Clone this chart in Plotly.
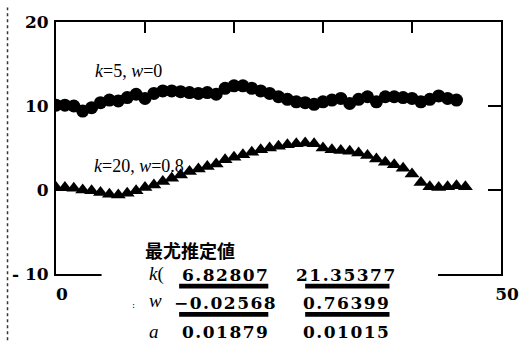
import plotly.graph_objects as go

# ---------------- data ----------------
circ_x = [0, 1, 2, 3, 4, 5, 6, 7, 8, 9, 10, 11, 12, 13, 14, 15, 16, 17, 18, 19, 20, 21, 22,
          23, 24, 25, 26, 27, 28, 29, 30, 31, 32, 33, 34, 35, 36, 37, 38, 39, 40, 41, 42, 43, 44, 45]
circ_y = [10.1, 10.1, 10.0, 9.4, 9.8, 10.4, 10.7, 10.6, 11.0, 11.4, 10.9, 11.5, 11.8, 11.8, 11.7,
          11.6, 11.5, 11.6, 11.4, 12.1, 12.4, 12.4, 12.1, 11.8, 11.5, 11.1, 10.8, 10.5, 10.4, 10.2,
          10.5, 10.7, 10.9, 10.3, 10.8, 11.1, 10.5, 11.1, 11.1, 11.0, 10.9, 10.5, 10.8, 11.2, 10.9, 10.7]

tri_x = [0, 1, 2, 3, 4, 5, 6, 7, 8, 9, 10, 11, 12, 13, 14, 15, 16, 17, 18, 19, 20, 21, 22, 23,
         24, 25, 26, 27, 28, 29, 30, 31, 32, 33, 34, 35, 36, 37, 38, 39, 40, 41, 42, 43, 44, 45, 46]
tri_y = [0.3, 0.3, 0.2, 0.0, -0.1, -0.3, -0.5, -0.6, -0.4, -0.1, 0.3, 0.6, 1.0, 1.4, 1.8, 2.2,
         2.5, 2.8, 3.1, 3.6, 3.9, 4.2, 4.5, 4.8, 5.0, 5.2, 5.4, 5.5, 5.6, 5.5, 5.0, 4.8, 4.7, 4.6,
         4.4, 4.1, 3.7, 3.3, 3.0, 2.6, 1.9, 0.9, 0.4, 0.3, 0.4, 0.5, 0.4]

series_labels = ["<i>k</i>=5, <i>w</i>=0", "<i>k</i>=20, <i>w</i>=0.8"]

x_tick_vals = [0, 10, 20, 30, 40, 50]
x_tick_text = ["<b>0</b>", "", "", "", "", "<b>50</b>"]
y_tick_vals = [-10, 0, 10, 20]
y_tick_text = ["<b>- 10</b>", "<b>0</b>", "<b>10</b>", "<b>20</b>"]

table_title = "最尤推定値"
param_names = ["<i>k</i>(", "<i>w</i>", "<i>a</i>"]
est_col1 = ["6.82807", "\u22120.02568", "0.01879"]
est_col2 = ["21.35377", "0.76399", "0.01015"]

# ---------------- layout helpers ----------------
W, H = 531, 342
ML, MR, MT, MB = 53, 19, 15, 68
PW, PH = W - ML - MR, H - MT - MB


def px(xp):
    return (xp - ML) / PW


def py(yp):
    return (H - MB - yp) / PH


SERIF = "DejaVu Serif"
TIMES = "Liberation Serif"

fig = go.Figure()
fig.add_trace(go.Scatter(x=circ_x, y=circ_y, mode="markers",
                         marker=dict(symbol="circle", size=13, color="black"),
                         showlegend=False, hoverinfo="skip"))
fig.add_trace(go.Scatter(x=tri_x, y=tri_y, mode="markers",
                         marker=dict(symbol="triangle-up", size=13, color="black"),
                         showlegend=False, hoverinfo="skip"))

ann = []
ann.append(dict(x=px(91), y=py(65), xref="paper", yref="paper", text=series_labels[0],
                xanchor="left", yanchor="middle", showarrow=False,
                font=dict(family=TIMES, size=18, color="black")))
ann.append(dict(x=px(90), y=py(163), xref="paper", yref="paper", text=series_labels[1],
                xanchor="left", yanchor="middle", showarrow=False,
                font=dict(family=TIMES, size=18, color="black")))
ann.append(dict(x=px(191), y=py(249), xref="paper", yref="paper", text="<b>" + table_title + "</b>",
                xanchor="center", yanchor="middle", showarrow=False,
                font=dict(family="Noto Sans CJK JP", size=18, color="black")))
row_y = [275, 304, 334]
name_y = [274, 301, 333]
for i in range(3):
    ann.append(dict(x=px(147), y=py(name_y[i]), xref="paper", yref="paper", text=param_names[i],
                    xanchor="left", yanchor="middle", showarrow=False,
                    font=dict(family=TIMES, size=19, color="black")))
    ann.append(dict(x=px(228), y=py(row_y[i]), xref="paper", yref="paper",
                    text='<span style="letter-spacing:1.5px">' + est_col1[i] + '</span>',
                    xanchor="center", yanchor="middle", showarrow=False,
                    font=dict(family=SERIF, size=17, color="black", weight="bold")))
    ann.append(dict(x=px(353), y=py(row_y[i]), xref="paper", yref="paper",
                    text='<span style="letter-spacing:1.5px">' + est_col2[i] + '</span>',
                    xanchor="center", yanchor="middle", showarrow=False,
                    font=dict(family=SERIF, size=17, color="black", weight="bold")))
ann.append(dict(x=px(133), y=py(306), xref="paper", yref="paper", text=":",
                xanchor="center", yanchor="middle", showarrow=False,
                font=dict(family=SERIF, size=9, color="black")))

shapes = []
shapes.append(dict(type="rect", xref="paper", yref="paper", x0=px(100), x1=px(447),
                   y0=py(H + 5), y1=py(236), fillcolor="white", line=dict(width=0), layer="above"))
for (x0, x1) in [(180, 272), (310, 397)]:
    for (y0, y1) in [(284, 289), (313, 318)]:
        shapes.append(dict(type="rect", xref="paper", yref="paper", x0=px(x0), x1=px(x1),
                           y0=py(y1), y1=py(y0), fillcolor="black", line=dict(width=0),
                           layer="above"))
shapes.append(dict(type="line", xref="paper", yref="paper", x0=px(3), x1=px(3),
                   y0=py(H), y1=py(0), line=dict(color="#333333", width=1.5, dash="dot"),
                   layer="above"))

fig.update_layout(
    width=W, height=H,
    margin=dict(l=ML, r=MR, t=MT, b=MB),
    paper_bgcolor="white", plot_bgcolor="white",
    showlegend=False,
    annotations=ann, shapes=shapes,
    xaxis=dict(range=[0, 50], tickvals=x_tick_vals, ticktext=x_tick_text,
               showgrid=False, zeroline=False, showline=True, linecolor="black", linewidth=2,
               mirror="ticks", ticks="inside", ticklen=11, tickwidth=2, tickcolor="black",
               ticklabelstandoff=4, ticklabelshift=6,
               tickfont=dict(family=SERIF, size=17, color="black")),
    yaxis=dict(range=[-10, 20], tickvals=y_tick_vals, ticktext=y_tick_text,
               showgrid=False, zeroline=False, showline=True, linecolor="black", linewidth=2,
               mirror="ticks", ticks="inside", ticklen=13, tickwidth=2, tickcolor="black",
               ticklabelstandoff=2,
               tickfont=dict(family=SERIF, size=17, color="black")),
)

fig.write_html("out.html", config={"displayModeBar": False},
               post_script="document.body.style.margin='0';document.body.style.padding='0';")
